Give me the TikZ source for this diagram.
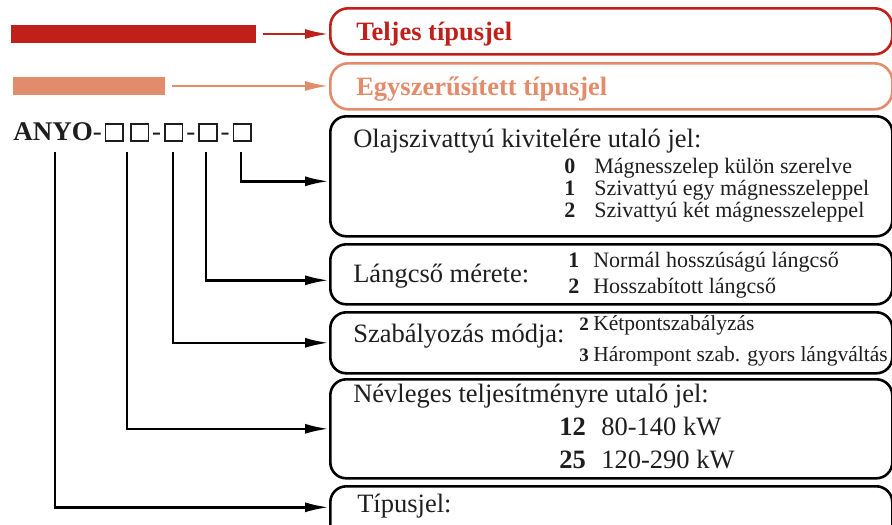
\documentclass[tikz,border=0pt]{standalone}
\usepackage{fontspec}
\setmainfont{Liberation Serif}
\usetikzlibrary{arrows.meta,positioning}
\definecolor{piros}{HTML}{C0201A}
\definecolor{lazac}{HTML}{E28C6C}
\definecolor{szoveg}{HTML}{1E1E1E}
\tikzstyle{cim} = [rectangle, draw, rounded corners=18pt, minimum width=562pt,
    minimum height=46pt, anchor=north west, inner sep=0pt]
\tikzstyle{doboz} = [rectangle, draw=black, rounded corners=16pt,
    minimum width=562pt, anchor=north west, inner sep=0pt]
\tikzstyle{rud} = [rectangle, minimum height=18pt, anchor=west, inner sep=0pt]
\tikzstyle{fej} = [anchor=base west, inner sep=0pt, text=szoveg,
    font=\fontsize{26.5}{30}\selectfont]
\tikzstyle{tetel} = [anchor=base west, inner sep=0pt, text=szoveg,
    font=\fontsize{22}{26}\selectfont]
\tikzstyle{szam} = [anchor=base west, inner sep=0pt, text=szoveg,
    font=\fontsize{22}{26}\selectfont\bfseries]
\newcommand{\kocka}{{\setlength{\fboxsep}{0pt}\setlength{\fboxrule}{1.6pt}%
    \hspace{3pt}\fbox{\rule{0pt}{15.5pt}\hspace{16pt}}\hspace{3pt}}}

\begin{document}
\begin{tikzpicture}[x=1pt,y=-1pt,line width=2.6pt,>={Latex[length=24pt,width=10pt]}]
  \useasboundingbox (0,0) rectangle (892,525);
  \clip (0,0) rectangle (892,525);

  % sávok és típusjel
  \node[rud,fill=piros,minimum width=245pt] (pirosrud) at (10,34) {};
  \node[rud,fill=lazac,minimum width=152pt] (lazacrud) at (12,86) {};
  \node[anchor=base west,inner sep=0pt,text=szoveg,font=\fontsize{27}{30}\selectfont]
    (anyo) at (12,140) {\textbf{ANYO}-\kocka\kocka-\kocka-\kocka-\kocka};

  % dobozok
  \node[cim,draw=piros] (teljes) at (329,7) {};
  \node[cim,draw=lazac] (egysz) at (329,62) {};
  \node[doboz,minimum height=120pt] (olaj) at (329,115) {};
  \node[doboz,minimum height=60pt] (lang) at (329,243) {};
  \node[doboz,minimum height=61pt] (szab) at (329,311) {};
  \node[doboz,minimum height=99pt] (nevl) at (329,378) {};
  \node[doboz,minimum height=60pt] (tipus) at (329,485) {};

  \node[fej,text=piros,font=\fontsize{26.5}{30}\selectfont\bfseries] (tcim) at (355,40) {Teljes típusjel};
  \node[fej,text=lazac,font=\fontsize{26.5}{30}\selectfont\bfseries] (ecim) at (355,95) {Egyszerűsített típusjel};

  \node[fej] (olajfej) at (352,147) {Olajszivattyú kivitelére utaló jel:};
  \node[szam] (o0) at (563,173) {0};
  \node[tetel] (o0t) at (593,173) {Mágnesszelep külön szerelve};
  \node[szam] (o1) at (563,195) {1};
  \node[tetel] (o1t) at (593,195) {Szivattyú egy mágnesszeleppel};
  \node[szam] (o2) at (563,217) {2};
  \node[tetel] (o2t) at (593,217) {Szivattyú két mágnesszeleppel};

  \node[fej] (langfej) at (352,282) {Lángcső mérete:};
  \node[szam] (l1) at (567,267) {1};
  \node[tetel] (l1t) at (592,267) {Normál hosszúságú lángcső};
  \node[szam] (l2) at (567,293) {2};
  \node[tetel] (l2t) at (592,293) {Hosszabított lángcső};

  \node[fej] (szabfej) at (352,342) {Szabályozás módja:};
  \node[szam,font=\fontsize{19}{22}\selectfont\bfseries] (s2) at (578,330) {2};
  \node[tetel,font=\fontsize{21.5}{26}\selectfont] (s2t) at (592,330) {Kétpontszabályzás};
  \node[szam,font=\fontsize{19}{22}\selectfont\bfseries] (s3) at (578,361) {3};
  \node[tetel,font=\fontsize{21.5}{26}\selectfont] (s3t) at (592,361) {Hárompont szab. gyors lángváltás};

  \node[fej] (nevlfej) at (352,402) {Névleges teljesítményre utaló jel:};
  \node[fej,font=\fontsize{26.5}{30}\selectfont\bfseries] (n12) at (558,435) {12};
  \node[fej] (n12t) at (600,435) {80-140 kW};
  \node[fej,font=\fontsize{26.5}{30}\selectfont\bfseries] (n25) at (558,468) {25};
  \node[fej] (n25t) at (600,468) {120-290 kW};

  \node[fej] (tipusfej) at (356,512) {Típusjel:};

  % nyilak
  \coordinate (k1) at (55,152);
  \coordinate (k2) at (127,152);
  \coordinate (k3) at (173,152);
  \coordinate (k4) at (206,152);
  \coordinate (k5) at (241,152);

  \draw[->,piros] ([xshift=5pt]pirosrud.east) -- (pirosrud.east -| teljes.west);
  \draw[->,lazac] ([xshift=5pt]lazacrud.east) -- (lazacrud.east -| egysz.west);
  \draw[->] (k5) |- ([yshift=-5pt]olaj.west);
  \draw[->] (k4) |- ([yshift=-6pt]lang.west);
  \draw[->] (k3) |- (szab.west);
  \draw[->] (k2) |- (nevl.west);
  \draw[->] (k1) |- ([yshift=9pt]tipus.west);
\end{tikzpicture}
\end{document}
